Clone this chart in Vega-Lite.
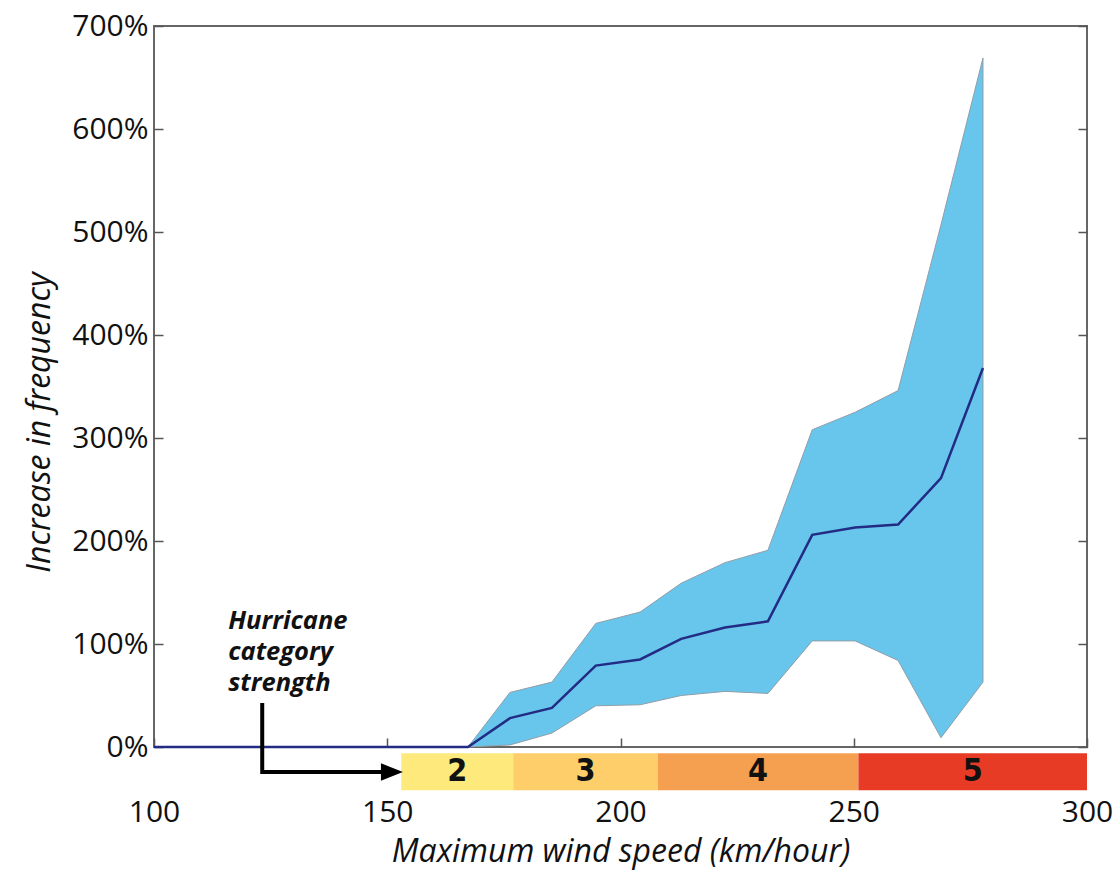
{
  "$schema": "https://vega.github.io/schema/vega-lite/v6.json",
  "width": 933,
  "height": 721,
  "autosize": "none",
  "padding": {"left": 154, "top": 26, "right": 27, "bottom": 127},
  "background": "white",
  "config": {
    "view": {"stroke": "#666666", "strokeWidth": 2},
    "font": "Open Sans"
  },
  "datasets": {
    "freq": [
      {"x": 100, "lo": 0, "mean": 0, "hi": 0},
      {"x": 167.3, "lo": 0, "mean": 0, "hi": 0},
      {"x": 176.3, "lo": 2, "mean": 28, "hi": 53},
      {"x": 185.3, "lo": 13.5, "mean": 38, "hi": 63},
      {"x": 194.7, "lo": 40, "mean": 79, "hi": 120},
      {"x": 204.2, "lo": 41, "mean": 85, "hi": 131},
      {"x": 213.0, "lo": 50, "mean": 105, "hi": 159},
      {"x": 222.4, "lo": 54, "mean": 116, "hi": 179},
      {"x": 231.6, "lo": 52, "mean": 122, "hi": 191},
      {"x": 241.1, "lo": 103, "mean": 206, "hi": 308},
      {"x": 250.3, "lo": 103, "mean": 213, "hi": 325},
      {"x": 259.5, "lo": 84, "mean": 216, "hi": 346},
      {"x": 268.7, "lo": 9, "mean": 261, "hi": 507},
      {"x": 277.7, "lo": 63, "mean": 368, "hi": 669}
    ],
    "cats": [
      {"cat": "2", "start": 153, "end": 177},
      {"cat": "3", "start": 177, "end": 208},
      {"cat": "4", "start": 208, "end": 251},
      {"cat": "5", "start": 251, "end": 300}
    ],
    "arrow": [
      {"x": 123.2, "y": 42.7, "order": 1},
      {"x": 123.2, "y": -24.3, "order": 2},
      {"x": 149, "y": -24.3, "order": 3}
    ],
    "note": [
      {"x": 115.9, "y": 114.6, "text": "Hurricane\ncategory\nstrength"}
    ]
  },
  "resolve": {"axis": {"y": "independent"}},
  "layer": [
    {
      "data": {"name": "freq"},
      "transform": [{"filter": "datum.x >= 167"}],
      "mark": {"type": "area", "fill": "#68C6EC", "stroke": "#8f9ea8", "strokeWidth": 1},
      "encoding": {
        "x": {
          "field": "x", "type": "quantitative",
          "scale": {"domain": [100, 300], "nice": false, "zero": false},
          "axis": {
            "values": [100, 150, 200, 250, 300],
            "domain": false, "grid": false,
            "tickSize": -9, "tickColor": "#555555", "tickWidth": 1.5,
            "labelPadding": 59, "labelFontSize": 30, "labelColor": "#111111",
            "labelFlush": false, "labelOverlap": false,
            "title": "Maximum wind speed (km/hour)",
            "titleFontSize": 32, "titleFontStyle": "italic", "titleFontWeight": "normal",
            "titleColor": "#111111", "titlePadding": 9
          }
        },
        "y": {
          "field": "lo", "type": "quantitative",
          "scale": {"domain": [0, 700], "nice": false},
          "axis": {
            "values": [0, 100, 200, 300, 400, 500, 600, 700],
            "labelExpr": "datum.value + '%'",
            "domain": false, "grid": false,
            "tickSize": -9, "tickColor": "#555555", "tickWidth": 1.5,
            "labelPadding": 15, "labelFontSize": 30, "labelColor": "#111111",
            "labelOverlap": false,
            "title": "Increase in frequency",
            "titleFontSize": 32, "titleFontStyle": "italic", "titleFontWeight": "normal",
            "titleColor": "#111111", "titlePadding": 15, "titleY": 396
          }
        },
        "y2": {"field": "hi"}
      }
    },
    {
      "data": {"name": "freq"},
      "mark": {"type": "line", "color": "#232C84", "strokeWidth": 2.5},
      "encoding": {
        "x": {"field": "x", "type": "quantitative"},
        "y": {
          "field": "mean", "type": "quantitative",
          "axis": {
            "orient": "right", "labels": false, "title": null,
            "values": [0, 100, 200, 300, 400, 500, 600, 700],
            "domain": false, "grid": false,
            "tickSize": -9, "tickColor": "#555555", "tickWidth": 1.5
          }
        }
      }
    },
    {
      "mark": {"type": "rule", "color": "white", "strokeWidth": 14},
      "encoding": {
        "x": {"datum": 123.2, "type": "quantitative"},
        "y": {"datum": 5, "type": "quantitative", "axis": null},
        "y2": {"datum": -4}
      }
    },
    {
      "data": {"name": "cats"},
      "mark": {"type": "rect"},
      "encoding": {
        "x": {"field": "start", "type": "quantitative"},
        "x2": {"field": "end"},
        "y": {"datum": -6, "type": "quantitative", "axis": null},
        "y2": {"datum": -42},
        "color": {
          "field": "cat", "type": "nominal", "legend": null,
          "scale": {"domain": ["2", "3", "4", "5"], "range": ["#FDE97C", "#FECE6A", "#F4A050", "#E73B26"]}
        }
      }
    },
    {
      "data": {"name": "cats"},
      "transform": [{"calculate": "(datum.start + datum.end) / 2", "as": "mid"}],
      "mark": {"type": "text", "font": "'DejaVu Sans Condensed', 'Liberation Sans', sans-serif", "fontWeight": "bold", "fontSize": 32, "color": "#111111", "baseline": "middle", "align": "center"},
      "encoding": {
        "x": {"field": "mid", "type": "quantitative"},
        "y": {"datum": -23.5, "type": "quantitative", "axis": null},
        "text": {"field": "cat"}
      }
    },
    {
      "data": {"name": "arrow"},
      "mark": {"type": "line", "color": "#000000", "strokeWidth": 4, "strokeJoin": "miter", "strokeCap": "butt"},
      "encoding": {
        "x": {"field": "x", "type": "quantitative"},
        "y": {"field": "y", "type": "quantitative", "axis": null},
        "order": {"field": "order"}
      }
    },
    {
      "data": {"name": "arrow"},
      "transform": [{"filter": "datum.order == 3"}],
      "mark": {"type": "point", "filled": true, "color": "#000000", "opacity": 1, "shape": "M-1,-0.8L1,0L-1,0.8Z", "size": 484},
      "encoding": {
        "x": {"datum": 151, "type": "quantitative"},
        "y": {"field": "y", "type": "quantitative", "axis": null}
      }
    },
    {
      "data": {"name": "note"},
      "mark": {"type": "text", "font": "Open Sans", "fontWeight": "bold", "fontStyle": "italic", "fontSize": 25.5, "lineHeight": 31, "lineBreak": "\n", "align": "left", "baseline": "alphabetic", "color": "#111111"},
      "encoding": {
        "x": {"field": "x", "type": "quantitative"},
        "y": {"field": "y", "type": "quantitative", "axis": null},
        "text": {"field": "text"}
      }
    }
  ]
}
